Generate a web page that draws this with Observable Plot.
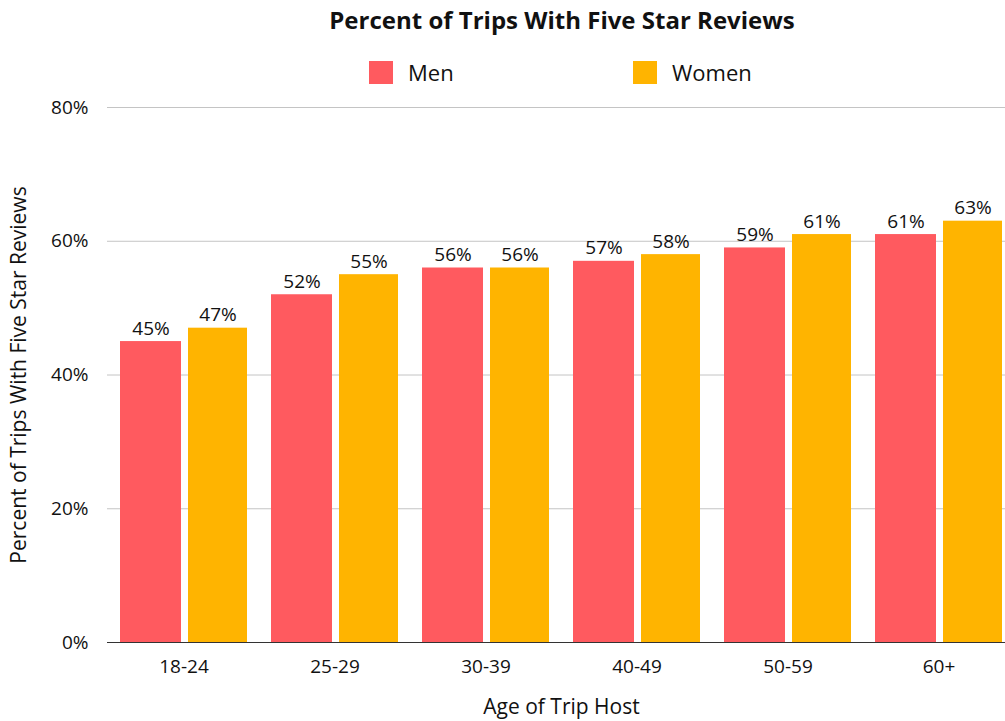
<!DOCTYPE html>
<html><head><meta charset="utf-8">
<script src="https://cdn.jsdelivr.net/npm/d3@7"></script>
<script src="https://cdn.jsdelivr.net/npm/@observablehq/plot@0.6"></script>
<style>
body{margin:0;background:#fff;font-family:"Open Sans","Noto Sans",sans-serif;color:#111;}
#wrap{position:relative;width:1005px;height:721px;overflow:hidden;}
#title{position:absolute;top:8px;left:0;width:1005px;text-align:center;padding-left:119px;box-sizing:border-box;font-weight:bold;font-size:24px;line-height:24px;}
.sw{position:absolute;top:61px;width:24px;height:23px;}
.lt{position:absolute;top:61px;font-size:22px;line-height:22px;}
#chart{position:absolute;top:90px;left:0;}
</style></head>
<body><div id="wrap">
<div id="title">Percent of Trips With Five Star Reviews</div>
<div id="chart"></div>
</div>
<script>
const ages = ["18-24","25-29","30-39","40-49","50-59","60+"];
const men = [45,52,56,57,59,61];
const women = [47,55,56,58,61,63];
const seriesNames = ["Men","Women"];
const colors = ["#FF5A5F","#FFB400"];

const menData = ages.map((a,i)=>({age:a, v:men[i]}));
const womenData = ages.map((a,i)=>({age:a, v:women[i]}));

// legend
const wrap = document.getElementById("wrap");
const legX = [369, 633];
seriesNames.forEach((s,i)=>{
  const sw = document.createElement("div"); sw.className="sw"; sw.style.left=legX[i]+"px"; sw.style.background=colors[i]; wrap.appendChild(sw);
  const t = document.createElement("div"); t.className="lt"; t.style.left=(legX[i]+39)+"px"; t.textContent=s; wrap.appendChild(t);
});

const plot = Plot.plot({
  width: 1005,
  height: 631,
  marginLeft: 107,
  marginRight: -10,
  marginTop: 17,
  marginBottom: 79,
  style: {fontSize: "19px", fontFamily: "'Open Sans', 'Noto Sans', sans-serif", color: "#111", overflow: "visible"},
  x: {domain: ages, paddingInner: 0.162, paddingOuter: 0.081, label: null, tickSize: 0, tickPadding: 17},
  y: {domain: [0, 80], ticks: [0,20,40,60,80], tickFormat: d => d + "%", tickSize: 0, tickPadding: 19, label: null},
  marks: [
    Plot.gridY([0,20,40,60,80], {stroke: "#c4c4c4", strokeOpacity: 1}),
    Plot.barY(menData, {x: "age", y: "v", fill: colors[0], insetRight: 66}),
    Plot.barY(womenData, {x: "age", y: "v", fill: colors[1], insetLeft: 68}),
    Plot.text(menData, {x: "age", y: "v", text: d => d.v + "%", dx: -33, dy: -7, lineAnchor: "bottom", fill: "#111"}),
    Plot.text(womenData, {x: "age", y: "v", text: d => d.v + "%", dx: 34, dy: -7, lineAnchor: "bottom", fill: "#111"}),
    Plot.ruleY([0], {stroke: "#333"}),
    Plot.axisX({tickSize: 0, tickPadding: 17, label: "Age of Trip Host", labelAnchor: "center", labelOffset: 71, fontSize: 19}),
    Plot.axisY({ticks: [0,20,40,60,80], tickFormat: d => d + "%", tickSize: 0, tickPadding: 19, label: "Percent of Trips With Five Star Reviews", labelArrow: false, labelAnchor: "center", labelOffset: 96})
  ]
});
// enlarge axis titles
plot.querySelectorAll("[aria-label='x-axis label'] text, [aria-label='y-axis label'] text").forEach(t => t.style.fontSize = "21px");
document.getElementById("chart").appendChild(plot);
</script>
</body></html>
